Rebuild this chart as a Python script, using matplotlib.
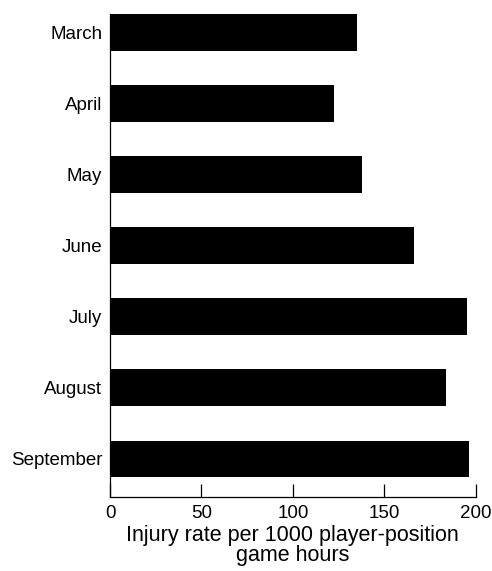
import numpy as np
import matplotlib.pyplot as plt

months = ["March", "April", "May", "June", "July", "August", "September"]
rates = [135, 122.5, 138, 166.5, 195, 184, 196.5]

plt.rcParams['font.family'] = ['Liberation Sans', 'DejaVu Sans']

fig = plt.figure(figsize=(4.92, 5.71), dpi=100)
ax = fig.add_axes([0.2236, 0.1296, 0.7433, 0.8459])

pos = np.arange(len(months))
ax.barh(pos, rates, height=0.516, color='black')

ax.set_ylim(6.536, -0.258)
ax.set_xlim(0, 200)
ax.set_yticks(pos)
ax.set_yticklabels(months, fontsize=13.5)
ax.set_xticks([0, 50, 100, 150, 200])
ax.tick_params(axis='x', direction='in', length=9.5, width=0.9, labelsize=13.5, pad=6)
ax.tick_params(axis='y', length=0, pad=5.5)

for s in ['top', 'right']:
    ax.spines[s].set_visible(False)
ax.spines['left'].set_linewidth(0.9)
ax.spines['bottom'].set_linewidth(0.9)

ax.set_xlabel('Injury rate per 1000 player-position\ngame hours', fontsize=15.5, labelpad=2, linespacing=0.95)

fig.savefig('out.png', dpi=100)
